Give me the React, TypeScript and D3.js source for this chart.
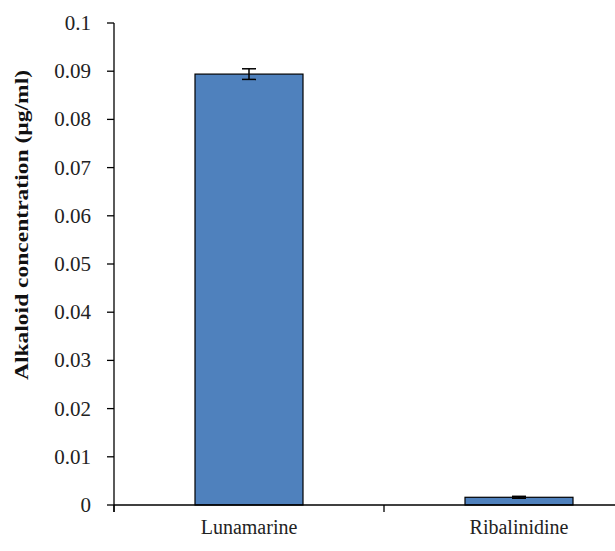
import { useEffect, useRef } from "react";
import * as d3 from "d3";

const categories = ["Lunamarine", "Ribalinidine"];
const values = [0.0894, 0.0016];
const errors = [0.0011, 0.0002];
const yTicks = [0, 0.01, 0.02, 0.03, 0.04, 0.05, 0.06, 0.07, 0.08, 0.09, 0.1];
const yLabel = "Alkaloid concentration (µg/ml)";

export default function App() {
  const ref = useRef<SVGSVGElement>(null);

  useEffect(() => {
    const w = 615;
    const left = 114,
      top = 23,
      bottom = 505;
    const svg = d3.select(ref.current);
    svg.selectAll("*").remove();

    const x = d3.scaleBand().domain(categories).range([left, left + 540]).padding(0);
    const y = d3.scaleLinear().domain([0, 0.1]).range([bottom, top]);
    const font = "'Liberation Serif', 'Times New Roman', serif";

    const data = categories.map((c, i) => ({ c, v: values[i], e: errors[i] }));
    const bw = x.bandwidth() * 0.4;

    svg
      .selectAll(".bar")
      .data(data)
      .join("rect")
      .attr("x", (d) => x(d.c)! + (x.bandwidth() - bw) / 2)
      .attr("width", bw)
      .attr("y", (d) => y(d.v))
      .attr("height", (d) => y(0) - y(d.v))
      .attr("fill", "#4f81bd")
      .attr("stroke", "#000")
      .attr("stroke-width", 1.2);

    // error bars
    data.forEach((d) => {
      const cx = x(d.c)! + x.bandwidth() / 2;
      const g = svg.append("g").attr("stroke", "#000").attr("stroke-width", 1.5);
      g.append("line").attr("x1", cx).attr("x2", cx).attr("y1", y(d.v + d.e)).attr("y2", y(d.v - d.e));
      [d.v + d.e, d.v - d.e].forEach((v) =>
        g.append("line").attr("x1", cx - 7).attr("x2", cx + 7).attr("y1", y(v)).attr("y2", y(v))
      );
    });

    // y axis
    const ya = svg.append("g").attr("stroke", "#000").attr("stroke-width", 1.3);
    ya.append("line").attr("x1", left).attr("x2", left).attr("y1", top).attr("y2", bottom + 7);
    yTicks.forEach((t) => {
      ya.append("line").attr("x1", left - 7).attr("x2", left).attr("y1", y(t)).attr("y2", y(t));
      svg
        .append("text")
        .attr("x", 91)
        .attr("y", y(t) + 7)
        .attr("text-anchor", "end")
        .attr("font-family", font)
        .attr("font-size", 21)
        .attr("fill", "#222")
        .text(String(t));
    });

    // x axis
    ya.append("line").attr("x1", left).attr("x2", w).attr("y1", bottom).attr("y2", bottom);
    [left, left + x.step(), left + 2 * x.step()].forEach((tx) =>
      ya.append("line").attr("x1", tx).attr("x2", tx).attr("y1", bottom).attr("y2", bottom + 7)
    );
    categories.forEach((c) => {
      svg
        .append("text")
        .attr("x", x(c)! + x.bandwidth() / 2)
        .attr("y", 534)
        .attr("text-anchor", "middle")
        .attr("font-family", font)
        .attr("font-size", 20)
        .attr("fill", "#222")
        .text(c);
    });

    svg
      .append("text")
      .attr("transform", `translate(28,225) rotate(-90)`)
      .attr("text-anchor", "middle")
      .attr("font-family", font)
      .attr("font-weight", "bold")
      .attr("font-size", 18)
      .attr("textLength", 310)
      .attr("lengthAdjust", "spacingAndGlyphs")
      .attr("fill", "#111")
      .text(yLabel);
  }, []);

  return (
    <svg
      ref={ref}
      width={615}
      height={551}
      style={{ position: "absolute", left: 0, top: 0, background: "#fff" }}
    />
  );
}
